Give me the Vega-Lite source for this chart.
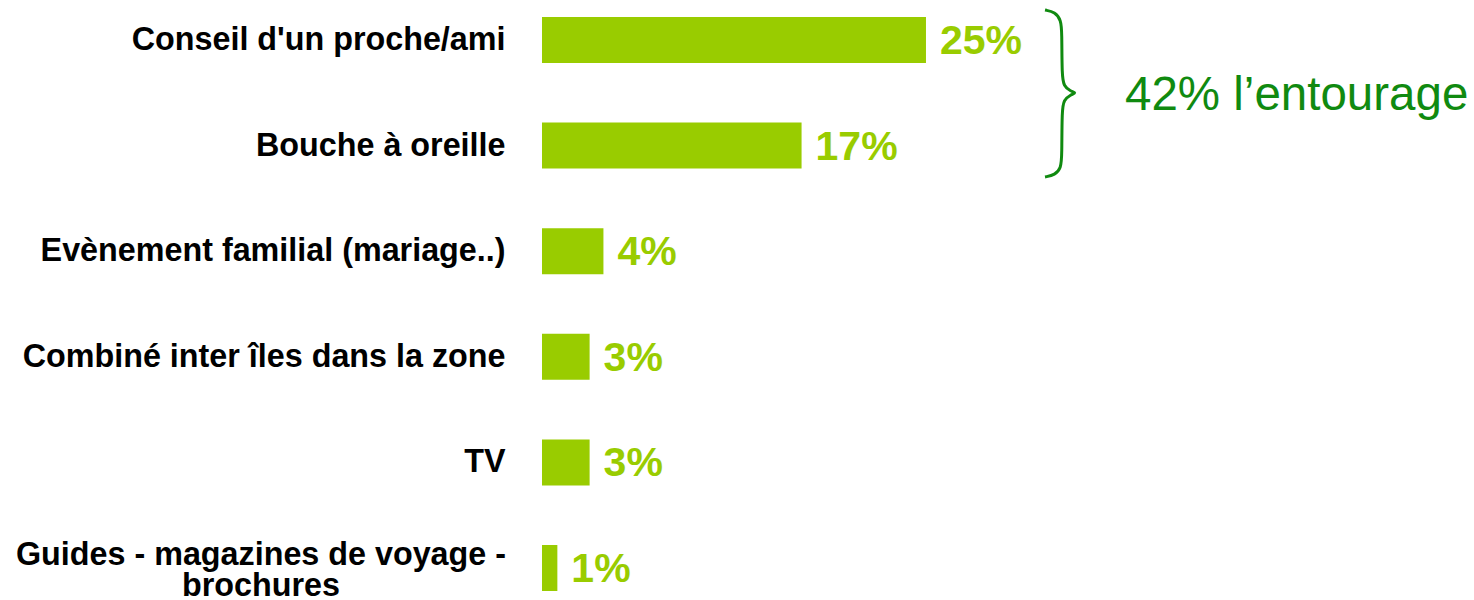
{
  "$schema": "https://vega.github.io/schema/vega-lite/v6.json",
  "autosize": {"type": "none"},
  "padding": {"left": 542, "top": 0, "right": 0, "bottom": 0},
  "width": 932,
  "height": 600,
  "background": "white",
  "config": {"view": {"stroke": null}},
  "datasets": {
    "bars": [
      {"source": "Conseil d'un proche/ami", "share": 0.25},
      {"source": "Bouche à oreille", "share": 0.169},
      {"source": "Evènement familial (mariage..)", "share": 0.04},
      {"source": "Combiné inter îles dans la zone", "share": 0.031},
      {"source": "TV", "share": 0.031},
      {"source": "Guides - magazines de voyage -|brochures", "share": 0.01}
    ],
    "brace": [
      {"i": 0, "bx": 0.3275, "by": -0.284},
      {"i": 1, "bx": 0.334, "by": -0.265},
      {"i": 2, "bx": 0.3379, "by": -0.189},
      {"i": 3, "bx": 0.3385, "by": -0.076},
      {"i": 4, "bx": 0.3385, "by": 0.341},
      {"i": 5, "bx": 0.3398, "by": 0.436},
      {"i": 6, "bx": 0.3438, "by": 0.483},
      {"i": 7, "bx": 0.3483, "by": 0.5},
      {"i": 8, "bx": 0.3438, "by": 0.521},
      {"i": 9, "bx": 0.3398, "by": 0.568},
      {"i": 10, "bx": 0.3385, "by": 0.663},
      {"i": 11, "bx": 0.3385, "by": 1.098},
      {"i": 12, "bx": 0.3379, "by": 1.212},
      {"i": 13, "bx": 0.334, "by": 1.278},
      {"i": 14, "bx": 0.3275, "by": 1.297}
    ],
    "note": [
      {"nx": 0.3796, "ny": 0.53, "txt": "42% l’entourage"}
    ]
  },
  "layer": [
    {
      "data": {"name": "bars"},
      "encoding": {
        "y": {
          "field": "source", "type": "nominal", "sort": null,
          "scale": {"type": "band", "paddingInner": 0.5644, "paddingOuter": 0.1231, "align": 0.654},
          "axis": {
            "title": null, "ticks": false, "domain": false,
            "labelPadding": {"condition": {"test": "indexof(datum.value, '|') >= 0", "value": 281.5}, "value": 37},
            "labelAlign": {"condition": {"test": "indexof(datum.value, '|') >= 0", "value": "center"}, "value": "right"},
            "labelFont": "Liberation Sans", "labelFontWeight": "bold", "labelFontSize": 32.3,
            "labelColor": "#000000", "labelLimit": 0, "labelLineHeight": 31,
            "labelOffset": {"condition": {"test": "indexof(datum.value, '|') >= 0", "value": -13}, "value": 0},
            "labelExpr": "split(datum.label, '|')"
          }
        }
      },
      "layer": [
        {
          "mark": {"type": "bar", "color": "#99CC00"},
          "encoding": {
            "x": {"field": "share", "type": "quantitative", "scale": {"domain": [0, 0.6068], "nice": false, "zero": true}, "axis": null}
          }
        },
        {
          "mark": {"type": "text", "align": "left", "baseline": "middle", "dx": 14, "dy": 2, "font": "Liberation Sans", "fontWeight": "bold", "fontSize": 41, "color": "#99CC00"},
          "encoding": {
            "x": {"field": "share", "type": "quantitative"},
            "text": {"field": "share", "type": "quantitative", "format": ".0%"}
          }
        }
      ]
    },
    {
      "data": {"name": "brace"},
      "mark": {"type": "line", "color": "#108A10", "strokeWidth": 3, "interpolate": "basis"},
      "encoding": {
        "x": {"field": "bx", "type": "quantitative"},
        "y": {"field": "by", "type": "quantitative", "scale": {"domain": [-0.3788, 5.303], "reverse": true, "nice": false, "zero": false}, "axis": null},
        "order": {"field": "i", "type": "quantitative"}
      }
    },
    {
      "data": {"name": "note"},
      "mark": {"type": "text", "align": "left", "baseline": "middle", "font": "Liberation Sans", "fontSize": 47.5, "color": "#108A10"},
      "encoding": {
        "x": {"field": "nx", "type": "quantitative"},
        "y": {"field": "ny", "type": "quantitative", "scale": {"domain": [-0.3788, 5.303], "reverse": true, "nice": false, "zero": false}, "axis": null},
        "text": {"field": "txt"}
      }
    }
  ],
  "resolve": {"scale": {"y": "independent"}}
}
